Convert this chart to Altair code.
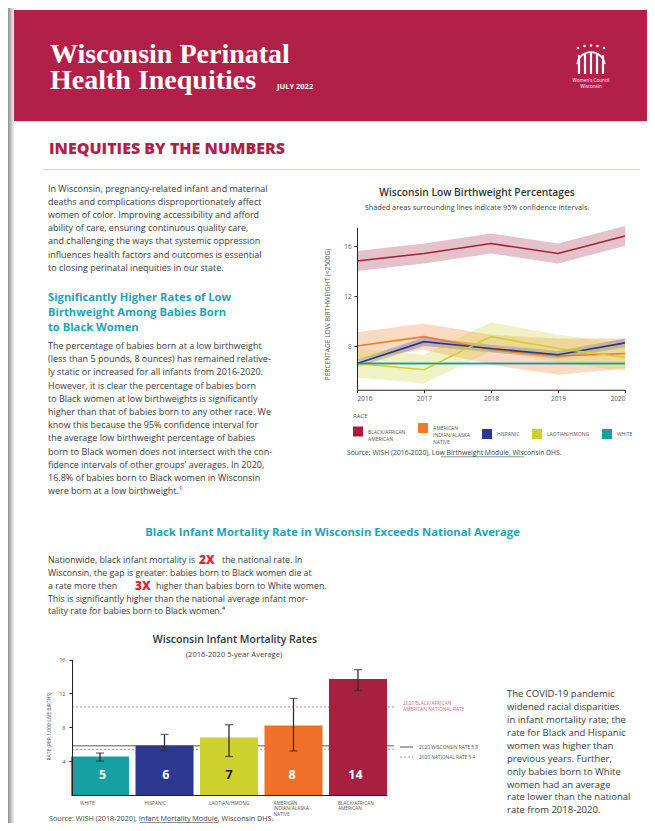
import altair as alt
import pandas as pd

# ---------------- data ----------------
years = [2016, 2017, 2018, 2019, 2020]
races = ["BLACK/AFRICAN AMERICAN", "AMERICAN INDIAN/ALASKA NATIVE", "HISPANIC",
         "LAOTIAN/HMONG", "WHITE"]
race_colors = ["#a3203f", "#f07a2a", "#2a378f", "#cdd02b", "#15a0a3"]

lbw_black = [14.8, 15.4, 16.2, 15.4, 16.8]
lbw_black_lo = [14.0, 14.6, 15.4, 14.6, 16.0]
lbw_black_hi = [15.6, 16.2, 17.0, 16.2, 17.6]
lbw_aian = [8.0, 8.75, 7.7, 7.2, 7.4]
lbw_aian_lo = [6.9, 7.7, 6.5, 5.7, 6.2]
lbw_aian_hi = [9.1, 9.8, 8.9, 8.6, 8.6]
lbw_hisp = [6.6, 8.35, 7.8, 7.3, 8.25]
lbw_hisp_lo = [6.3, 8.0, 7.5, 7.0, 7.9]
lbw_hisp_hi = [6.9, 8.7, 8.1, 7.6, 8.6]
lbw_hmong = [6.6, 6.1, 8.75, 7.8, 7.1]
lbw_hmong_lo = [5.5, 5.0, 7.6, 6.7, 6.0]
lbw_hmong_hi = [7.8, 7.3, 9.9, 8.9, 8.2]
lbw_white = [6.6, 6.6, 6.6, 6.6, 6.6]
lbw_white_lo = [6.48, 6.48, 6.48, 6.48, 6.48]
lbw_white_hi = [6.72, 6.72, 6.72, 6.72, 6.72]
lbw_ticks = [8, 12, 16]

bar_races = ["WHITE", "HISPANIC", "LAOTIAN/HMONG", "AMERICAN INDIAN/ALASKA NATIVE",
             "BLACK/AFRICAN AMERICAN"]
bar_colors = ["#16a0a4", "#2b3a90", "#cfd22e", "#f0702a", "#a8203f"]
imr_rate = [4.55, 5.85, 6.8, 8.2, 13.7]
imr_lo = [4.0, 5.25, 4.55, 5.2, 12.35]
imr_hi = [4.95, 7.15, 8.3, 11.4, 14.8]
imr_ticks = [4, 8, 12, 16]
ref_names = ["wi", "us", "black_us"]
ref_rates = [5.8, 5.4, 10.4]

# ---------------- tables ----------------
rows = []
for race, v, lo, hi in zip(
        races,
        [lbw_black, lbw_aian, lbw_hisp, lbw_hmong, lbw_white],
        [lbw_black_lo, lbw_aian_lo, lbw_hisp_lo, lbw_hmong_lo, lbw_white_lo],
        [lbw_black_hi, lbw_aian_hi, lbw_hisp_hi, lbw_hmong_hi, lbw_white_hi]):
    for yr, a, b, c in zip(years, v, lo, hi):
        rows.append({"race": race, "year": yr, "value": a, "lo": b, "hi": c})
lbw = pd.DataFrame(rows)
imr = pd.DataFrame({"race": bar_races, "rate": imr_rate, "lo": imr_lo, "hi": imr_hi})
refs = pd.DataFrame({"name": ref_names, "rate": ref_rates})
ONE = pd.DataFrame({"k": [0]})

SANS = "Open Sans"
SERIF = "Liberation Serif"
HEADER = "#b21f48"
TEAL = "#1fa3b5"
BODY = "#3a3a3a"

MULTI = ("datum.label == 'AMERICAN INDIAN/ALASKA NATIVE' ? ['AMERICAN', 'INDIAN/ALASKA', 'NATIVE'] : "
         "datum.label == 'BLACK/AFRICAN AMERICAN' ? ['BLACK/AFRICAN', 'AMERICAN'] : datum.label")


def txt(text, x, y, size, color=BODY, weight="normal", font=SANS, align="left",
        lh=None, baseline="alphabetic"):
    props = dict(align=align, baseline=baseline, fontSize=size, font=font,
                 fontWeight=weight, color=color)
    if lh is not None:
        props["lineHeight"] = lh
    return alt.Chart(ONE).mark_text(text=text, **props).encode(
        x=alt.value(x), y=alt.value(y))


def box(x, x2, y, y2, color):
    return alt.Chart(ONE).mark_rect(color=color).encode(
        x=alt.value(x), x2=alt.value(x2), y=alt.value(y), y2=alt.value(y2))


def hline(x, x2, y, color, width=1.0, dash=None):
    kw = dict(color=color, strokeWidth=width)
    if dash:
        kw["strokeDash"] = dash
    return alt.Chart(ONE).mark_rule(**kw).encode(
        x=alt.value(x), x2=alt.value(x2), y=alt.value(y))


layers = []

# page shadow + header
shadow = alt.Chart(ONE).mark_rect(color=alt.LinearGradient(
    gradient="linear", x1=0, x2=1, y1=0, y2=0,
    stops=[alt.GradientStop(color="#8f8f8f", offset=0),
           alt.GradientStop(color="#f2f2f2", offset=1)])).encode(
    x=alt.value(0), x2=alt.value(6), y=alt.value(0), y2=alt.value(815))
layers.append(shadow)
layers.append(box(6, 639, 2, 113, HEADER))
layers.append(hline(6, 639, 113.5, "#efd3da", 1))

layers.append(txt(["Wisconsin Perinatal", "Health Inequities"], 42, 55, 28, "white", "bold",
                  SERIF, lh=26))
layers.append(txt("JULY 2022", 269, 81, 7.5, "white", "bold"))

# logo (decoration)
logo_cols = pd.DataFrame({"x": [571, 577, 583, 589, 595],
                          "y": [47, 45.5, 45, 45.5, 47], "y2": [66, 66, 66, 66, 66]})
logo_dots = pd.DataFrame({"x": [570, 576.5, 583, 589.5, 596], "y": [40, 38, 37.5, 38, 40]})
layers.append(alt.Chart(logo_cols).mark_rule(color="white", strokeWidth=2.2).encode(
    x=alt.X("x:Q", scale=None), y=alt.Y("y:Q", scale=None), y2="y2:Q"))
layers.append(alt.Chart(logo_dots).mark_circle(color="white", opacity=1, size=6).encode(
    x=alt.X("x:Q", scale=None), y=alt.Y("y:Q", scale=None)))
layers.append(alt.Chart(ONE).mark_arc(color="white", innerRadius=13, outerRadius=14.8,
                                      theta=4.85, theta2=7.71).encode(
    x=alt.value(583), y=alt.value(58)))
layers.append(txt(["Women's Council", "Wisconsin"], 583, 74, 4.6, "white", align="center", lh=5.5))

# section title
layers.append(txt("INEQUITIES BY THE NUMBERS", 41, 146, 16, HEADER, 800))
layers.append(hline(35, 632, 161.5, "#e6d6c6", 1))

para1 = ["In Wisconsin, pregnancy-related infant and maternal",
         "deaths and complications disproportionately affect",
         "women of color. Improving accessibility and afford",
         "ability of care, ensuring continuous quality care,",
         "and challenging the ways that systemic oppression",
         "influences health factors and outcomes is essential",
         "to closing perinatal inequities in our state."]
layers.append(txt(para1, 40, 184, 9, lh=13.1))

head2 = ["Significantly Higher Rates of Low", "Birthweight Among Babies Born", "to Black Women"]
layers.append(txt(head2, 40, 292.8, 11.2, TEAL, "bold", lh=15.3))

para2 = ["The percentage of babies born at a low birthweight",
         "(less than 5 pounds, 8 ounces) has remained relative-",
         "ly static or increased for all infants from 2016-2020.",
         "However, it is clear the percentage of babies born",
         "to Black women at low birthweights is significantly",
         "higher than that of babies born to any other race. We",
         "know this because the 95% confidence interval for",
         "the average low birthweight percentage of babies",
         "born to Black women does not intersect with the con-",
         "fidence intervals of other groups' averages. In 2020,",
         "16.8% of babies born to Black women in Wisconsin",
         "were born at a low birthweight.\u00b9"]
layers.append(txt(para2, 40, 341, 9, lh=13.2))

# line chart titles
layers.append(txt("Wisconsin Low Birthweight Percentages", 469, 188.3, 10.2, "#333", 600, align="center"))
layers.append(txt("Shaded areas surrounding lines indicate 95% confidence intervals.",
                  469, 201.8, 7.3, "#444", align="center"))

# ---------------- line chart ----------------
x_scale = alt.Scale(domain=[2016, 2020], range=[349, 617], nice=False, zero=False)
y_scale = alt.Scale(domain=[4.5, 17.5], range=[381.75, 219.25], nice=False, zero=False)
c_scale = alt.Scale(domain=races, range=race_colors)

bands = alt.Chart(lbw).mark_area(fillOpacity=0.28).encode(
    x=alt.X("year:Q", scale=x_scale, axis=None),
    y=alt.Y("hi:Q", scale=y_scale, axis=None),
    y2="lo:Q",
    color=alt.Color("race:N", scale=c_scale, legend=alt.Legend(
        title="RACE", orient="none", legendX=345, legendY=405, direction="horizontal",
        symbolType="square", symbolSize=100, symbolStrokeWidth=0, symbolOpacity=1,
        labelFontSize=5, labelColor="#555", labelExpr=MULTI, labelLimit=0,
        labelOffset=5, columnPadding=12, titleFontSize=6, titleColor="#555",
        titleFontWeight="normal", titlePadding=4)),
    detail="race:N")

lines = alt.Chart(lbw).mark_line(strokeWidth=1.6).encode(
    x=alt.X("year:Q", scale=x_scale, axis=alt.Axis(
        orient="bottom", offset=-433.25, values=years, format="d", grid=False,
        tickSize=3, labelFontSize=6.5, labelColor="#555", labelPadding=3,
        domainColor="#222", tickColor="#222", title=None, zindex=1)),
    y=alt.Y("value:Q", scale=y_scale, axis=alt.Axis(
        orient="left", offset=-349, values=lbw_ticks, grid=False, tickSize=3,
        labelFontSize=6.3, labelColor="#555", labelPadding=3, domainColor="#222",
        tickColor="#222", title="PERCENTAGE LOW BIRTHWEIGHT (<2500G)", titleX=-30,
        titleY=306, titleAngle=270, titleAlign="center", titleBaseline="middle",
        titleFontSize=6.6, titleColor="#555", titleFontWeight="normal", zindex=1)),
    color=alt.Color("race:N", scale=c_scale, legend=None))

layers += [bands, lines]

layers.append(txt("Source: WISH (2016-2020), Low Birthweight Module, Wisconsin DHS.",
                  339, 447, 6.8, "#444"))
layers.append(hline(433, 516, 448.8, "#444", 0.6))

# ---------------- middle section ----------------
layers.append(txt("Black Infant Mortality Rate in Wisconsin Exceeds National Average",
                  324.5, 527.8, 11.3, TEAL, "bold", align="center"))

p3y = [555, 568, 581, 593.7, 606.4]
layers.append(txt("Nationwide, black infant mortality is", 40, p3y[0], 8.8))
layers.append(txt("2X", 191, p3y[0] + 0.6, 12, "#e0242f", 800))
layers.append(txt("the national rate. In", 214, p3y[0], 8.8))
layers.append(txt("Wisconsin, the gap is greater: babies born to Black women die at", 40, p3y[1], 8.8))
layers.append(txt("a rate more then", 40, p3y[2], 8.8))
layers.append(txt("3X", 127, p3y[2] + 0.6, 12, "#e0242f", 800))
layers.append(txt("higher than babies born to White women.", 148, p3y[2], 8.8))
layers.append(txt(["This is significantly higher than the national average infant mor-",
                   "tality rate for babies born to Black women.\u2074"], 40, p3y[3], 8.8, lh=12.7))

# bar chart titles
layers.append(txt("Wisconsin Infant Mortality Rates", 227, 634.8, 10.5, "#333", 600, align="center"))
layers.append(txt("(2016-2020 5-year Average)", 226, 648.8, 7.6, "#444", align="center"))

# ---------------- bar chart ----------------
bx = alt.Scale(domain=bar_races, range=[63, 379], paddingInner=0.1, paddingOuter=0)
by = alt.Scale(domain=[0, 16], range=[787, 651.5], nice=False, zero=True)
bc = alt.Scale(domain=bar_races, range=bar_colors)


def ref_rule(name, color, dash=None, width=1.0):
    kw = dict(color=color, strokeWidth=width)
    if dash:
        kw["strokeDash"] = dash
    return alt.Chart(refs).transform_filter(alt.datum.name == name).mark_rule(**kw).encode(
        y=alt.Y("rate:Q", scale=by, axis=None), x=alt.value(64), x2=alt.value(386))


bars = alt.Chart(imr).mark_bar().encode(
    x=alt.X("race:N", scale=bx, sort=bar_races, axis=alt.Axis(
        orient="bottom", offset=-28, title=None, labelAngle=0, labelAlign="left",
        labelBaseline="top", labelOffset=-20, labelPadding=5, labelFontSize=4.8,
        labelLineHeight=5.6, labelColor="#555", ticks=False, domainColor="#222",
        domainWidth=1.2, labelExpr=MULTI, labelLimit=0, labelOverlap=False, zindex=1)),
    y=alt.Y("rate:Q", scale=by, axis=alt.Axis(
        orient="left", offset=-64, values=imr_ticks, grid=False, tickSize=3,
        labelFontSize=5.5, labelColor="#555", labelPadding=4, domainColor="#222",
        tickColor="#222", title="RATE (PER 1,000 LIVE BIRTHS)", titleX=-24, titleY=718,
        titleAngle=270, titleAlign="center", titleBaseline="middle", titleFontSize=5.0,
        titleColor="#555", titleFontWeight="normal", zindex=1)),
    color=alt.Color("race:N", scale=bc, legend=None))

err = alt.Chart(imr).mark_rule(color="#3b2a2a", strokeWidth=1.3).encode(
    x=alt.X("race:N", scale=bx, sort=bar_races, axis=None),
    y=alt.Y("lo:Q", scale=by, axis=None), y2="hi:Q")
cap_lo = alt.Chart(imr).mark_tick(color="#3b2a2a", thickness=1.3, size=8).encode(
    x=alt.X("race:N", scale=bx, sort=bar_races, axis=None),
    y=alt.Y("lo:Q", scale=by, axis=None))
cap_hi = alt.Chart(imr).mark_tick(color="#3b2a2a", thickness=1.3, size=8).encode(
    x=alt.X("race:N", scale=bx, sort=bar_races, axis=None),
    y=alt.Y("hi:Q", scale=by, axis=None))
bar_labels = alt.Chart(imr).mark_text(fontSize=12.5, fontWeight="bold", font=SANS,
                                      baseline="middle").encode(
    x=alt.X("race:N", scale=bx, sort=bar_races, axis=None),
    y=alt.value(767),
    text=alt.Text("rate:Q", format=".0f"),
    color=alt.condition(alt.datum.race == "LAOTIAN/HMONG", alt.value("#1a1a1a"),
                        alt.value("white")))

layers += [ref_rule("black_us", "#d27a96", [2, 2]),
           ref_rule("us", "#9a9a9a", [2, 2]),
           ref_rule("wi", "#555555"),
           bars, err, cap_lo, cap_hi, bar_labels]

# reference-line labels
layers.append(txt(["2020 BLACK/AFRICAN", "AMERICAN NATIONAL RATE"], 395, 696.5, 4.8, "#c9698a", lh=6.3))
layers.append(hline(392, 405, 739, "#555", 1))
layers.append(hline(392, 405, 749, "#999", 1, [2, 2]))
layers.append(txt("2020 WISCONSIN RATE 5.8", 411, 740.7, 4.8, "#555"))
layers.append(txt("2020 NATIONAL RATE 5.4", 411, 750.7, 4.8, "#555"))

covid = ["The COVID-19 pandemic", "widened racial disparities",
         "in infant mortality rate; the", "rate for Black and Hispanic",
         "women was higher than", "previous years. Further,",
         "only babies born to White", "women had an average",
         "rate lower than the national", "rate from 2018-2020."]
layers.append(txt(covid, 499, 689.3, 9.5, lh=12.9))

layers.append(txt("Source: WISH (2018-2020), Infant Mortality Module, Wisconsin DHS.",
                  41, 813, 7.2, "#444"))
layers.append(hline(132, 210, 814.5, "#444", 0.6))

chart = alt.layer(*layers).resolve_scale(
    x="independent", y="independent", color="independent"
).resolve_axis(x="independent", y="independent").resolve_legend(
    color="independent"
).properties(
    width=639, height=815, autosize=alt.AutoSizeParams(type="none"), padding=0,
    background="white"
).configure_view(stroke="transparent").configure_axis(
    labelFont=SANS, titleFont=SANS
).configure_legend(labelFont=SANS, titleFont=SANS)

chart.save("out.html", embed_options={"renderer": "svg", "actions": False})
